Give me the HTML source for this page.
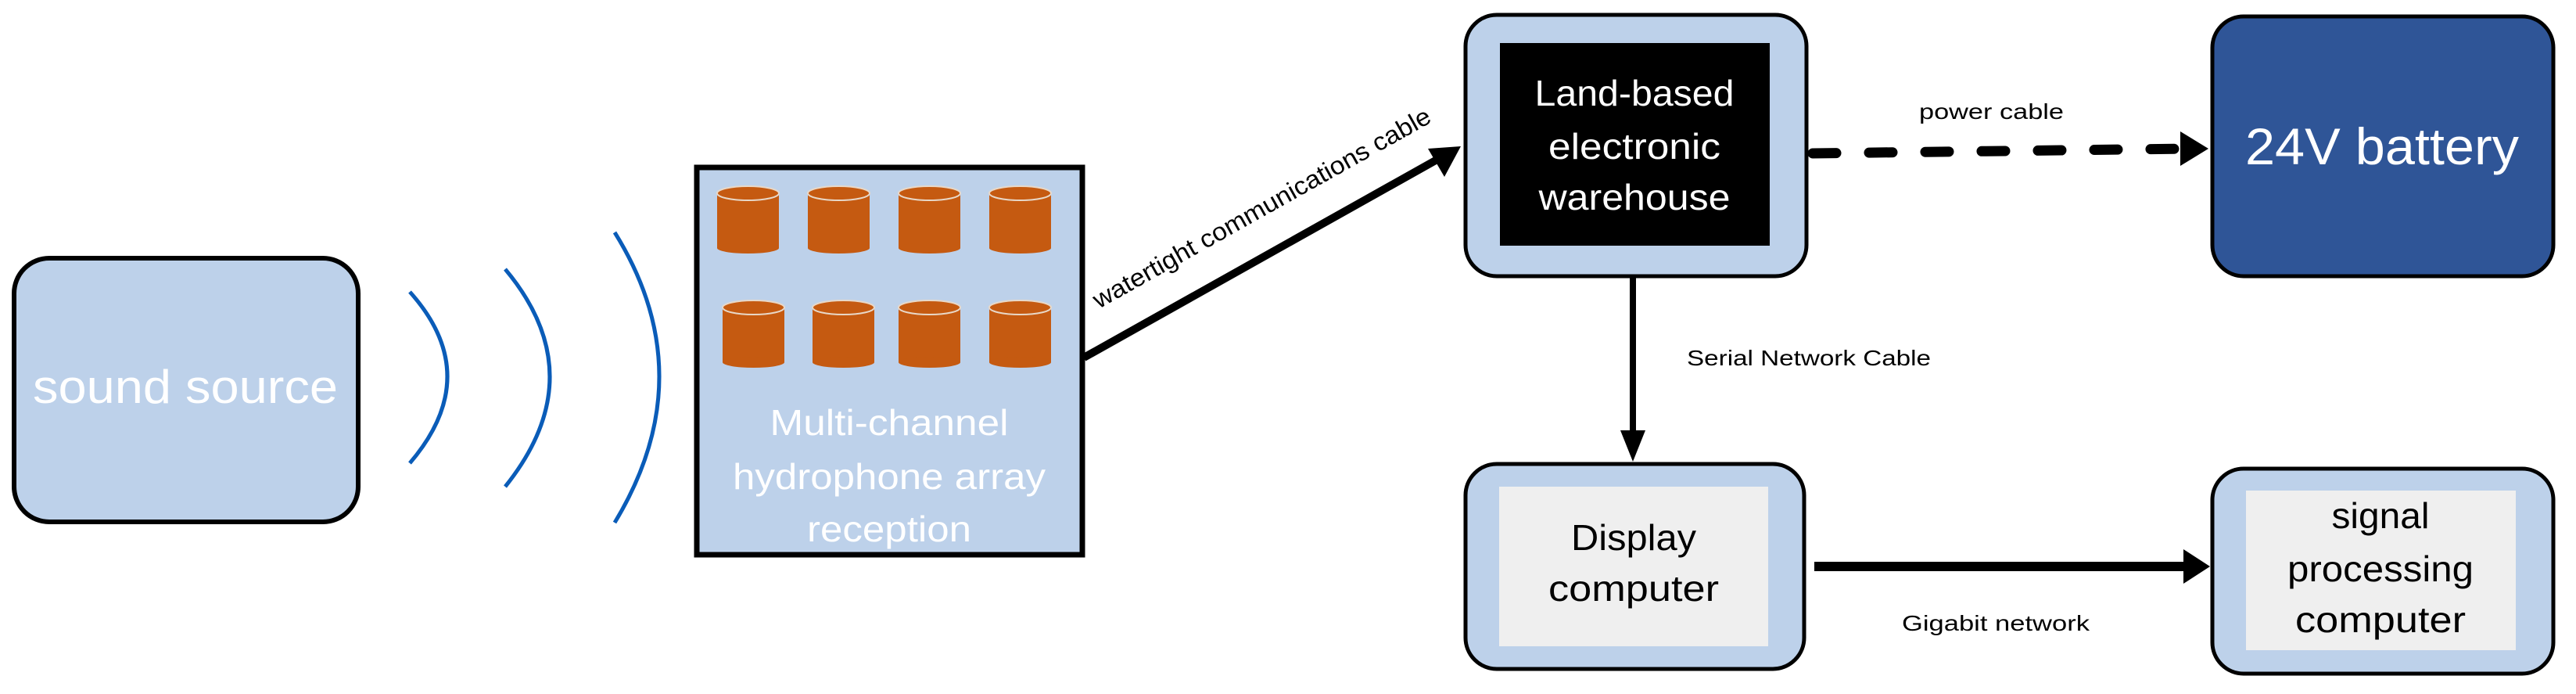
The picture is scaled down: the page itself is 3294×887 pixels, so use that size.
<!DOCTYPE html>
<html><head><meta charset="utf-8"><style>html,body{margin:0;padding:0;background:#fff}svg{display:block}</style></head>
<body>
<svg width="3294" height="887" viewBox="0 0 3294 887" xmlns="http://www.w3.org/2000/svg" font-family="'Liberation Sans', sans-serif">
<defs>
<g id="cyl">
<rect x="0" y="10" width="79" height="70" fill="#c55a11"/>
<ellipse cx="39.5" cy="80" rx="39.5" ry="7" fill="#c55a11"/>
<ellipse cx="39.5" cy="10" rx="39.5" ry="9" fill="#c55a11" stroke="#e8d8c8" stroke-width="2"/>
</g>
</defs>
<!-- sound source -->
<rect x="18" y="330" width="440" height="337" rx="45" fill="#bdd1ea" stroke="#000" stroke-width="6"/>
<text x="237" y="515" font-size="60" fill="#fff" text-anchor="middle" textLength="390" lengthAdjust="spacingAndGlyphs">sound source</text>
<!-- waves -->
<g fill="none" stroke="#0a5cb8" stroke-width="5">
<path d="M524 373 Q620 480 524 592"/>
<path d="M646 344 Q760 480 646 622"/>
<path d="M786 297 Q900 480 786 668"/>
</g>
<!-- hydrophone box -->
<rect x="891" y="214" width="493" height="495" fill="#bdd1ea" stroke="#000" stroke-width="7"/>
<use href="#cyl" transform="translate(917,237)"/>
<use href="#cyl" transform="translate(1033,237)"/>
<use href="#cyl" transform="translate(1149,237)"/>
<use href="#cyl" transform="translate(1265,237)"/>
<use href="#cyl" transform="translate(924,383)"/>
<use href="#cyl" transform="translate(1039,383)"/>
<use href="#cyl" transform="translate(1149,383)"/>
<use href="#cyl" transform="translate(1265,383)"/>
<g font-size="46" fill="#fff" text-anchor="middle">
<text x="1137" y="556" textLength="305" lengthAdjust="spacingAndGlyphs">Multi-channel</text>
<text x="1137" y="625" textLength="400" lengthAdjust="spacingAndGlyphs">hydrophone array</text>
<text x="1137" y="692" textLength="210" lengthAdjust="spacingAndGlyphs">reception</text>
</g>
<!-- watertight arrow -->
<line x1="1386" y1="457" x2="1850" y2="197" stroke="#000" stroke-width="10"/>
<polygon points="1868,187 1826,190 1847,226" fill="#000"/>
<text transform="translate(1405,395) rotate(-29.3)" font-size="32" fill="#000" textLength="490" lengthAdjust="spacingAndGlyphs">watertight communications cable</text>
<!-- land box -->
<rect x="1874" y="19" width="436" height="334" rx="40" fill="#bdd1ea" stroke="#000" stroke-width="5"/>
<rect x="1918" y="55" width="345" height="259" fill="#000"/>
<g font-size="46" fill="#fff" text-anchor="middle">
<text x="2090" y="135" textLength="255" lengthAdjust="spacingAndGlyphs">Land-based</text>
<text x="2090" y="203" textLength="220" lengthAdjust="spacingAndGlyphs">electronic</text>
<text x="2090" y="268" textLength="245" lengthAdjust="spacingAndGlyphs">warehouse</text>
</g>
<!-- battery -->
<rect x="2829" y="21" width="436" height="332" rx="40" fill="#2f5597" stroke="#000" stroke-width="5"/>
<text x="3046" y="210" font-size="66" fill="#fff" text-anchor="middle" textLength="350" lengthAdjust="spacingAndGlyphs">24V battery</text>
<!-- power dashed -->
<line x1="2318" y1="196" x2="2800" y2="190" stroke="#000" stroke-width="13" stroke-dasharray="30,42" stroke-linecap="round"/>
<polygon points="2824,190 2788,168 2788,212" fill="#000"/>
<text x="2454" y="152" font-size="28" fill="#000" textLength="185" lengthAdjust="spacingAndGlyphs">power cable</text>
<!-- serial -->
<line x1="2088" y1="354" x2="2088" y2="565" stroke="#000" stroke-width="8"/>
<polygon points="2088,590 2072,550 2104,550" fill="#000"/>
<text x="2157" y="467" font-size="28" fill="#000" textLength="312" lengthAdjust="spacingAndGlyphs">Serial Network Cable</text>
<!-- display box -->
<rect x="1874" y="593" width="433" height="262" rx="40" fill="#bdd1ea" stroke="#000" stroke-width="5"/>
<rect x="1917" y="622" width="344" height="204" fill="#efefef"/>
<g font-size="46" fill="#000" text-anchor="middle">
<text x="2089" y="703" textLength="160" lengthAdjust="spacingAndGlyphs">Display</text>
<text x="2089" y="768" textLength="218" lengthAdjust="spacingAndGlyphs">computer</text>
</g>
<!-- gigabit -->
<line x1="2320" y1="724" x2="2800" y2="724" stroke="#000" stroke-width="12"/>
<polygon points="2826,724 2792,702 2792,746" fill="#000"/>
<text x="2432" y="806" font-size="28" fill="#000" textLength="240" lengthAdjust="spacingAndGlyphs">Gigabit network</text>
<!-- signal box -->
<rect x="2829" y="599" width="436" height="262" rx="40" fill="#bdd1ea" stroke="#000" stroke-width="5"/>
<rect x="2872" y="627" width="345" height="204" fill="#efefef"/>
<g font-size="46" fill="#000" text-anchor="middle">
<text x="3044" y="675" textLength="125" lengthAdjust="spacingAndGlyphs">signal</text>
<text x="3044" y="743" textLength="238" lengthAdjust="spacingAndGlyphs">processing</text>
<text x="3044" y="808" textLength="218" lengthAdjust="spacingAndGlyphs">computer</text>
</g>
</svg>
</body></html>
